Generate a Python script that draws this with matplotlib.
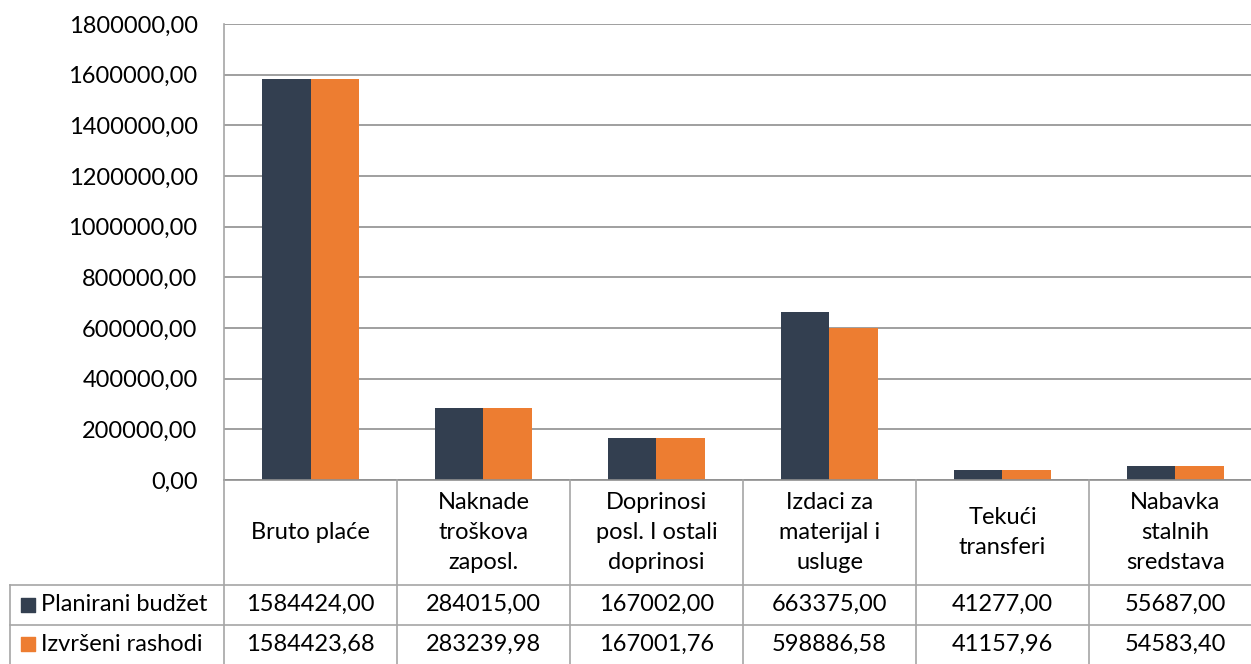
import matplotlib
matplotlib.use('Agg')
import matplotlib.pyplot as plt
import numpy as np

# data
categories = ['Bruto plaće', 'Naknade\ntroškova\nzaposl.', 'Doprinosi\nposl. I ostali\ndoprinosi',
              'Izdaci za\nmaterijal i\nusluge', 'Tekući\ntransferi', 'Nabavka\nstalnih\nsredstava']
series_names = ['Planirani budžet', 'Izvršeni rashodi']
planirani = [1584424.00, 284015.00, 167002.00, 663375.00, 41277.00, 55687.00]
izvrseni = [1584423.68, 283239.98, 167001.76, 598886.58, 41157.96, 54583.40]
y_ticks = np.arange(0, 1800001, 200000)

colors = ['#333F50', '#ED7D31']
grid_col = '#8F8F8F'
line_col = '#A6A6A6'
fs = 17

plt.rcParams['font.family'] = ['Lato', 'DejaVu Sans']

W, H = 1251, 664
fig = plt.figure(figsize=(W / 100, H / 100), dpi=100)

# pixel layout
x0, x1 = 224, 1262      # plot area (right edge runs off the image)
y_top, y_zero = 24, 480
leg_left = 10
cat_w = (x1 - x0) / 6

ax = fig.add_axes([x0 / W, (H - y_zero) / H, (x1 - x0) / W, (y_zero - y_top) / H])
x = np.arange(len(categories))
bw = 0.283
ax.bar(x - bw / 2, planirani, bw, color=colors[0], zorder=3)
ax.bar(x + bw / 2, izvrseni, bw, color=colors[1], zorder=3)
ax.set_xlim(-0.5, 5.5)
ax.set_ylim(0, 1800000)
ax.set_yticks(y_ticks)
ax.set_yticklabels(['{:.2f}'.format(v).replace('.', ',') for v in y_ticks], fontsize=fs)
ax.tick_params(axis='y', length=0, pad=19)
ax.set_xticks([])
ax.grid(axis='y', color=grid_col, linewidth=1.2, zorder=0)
for s in ['top', 'right', 'bottom']:
    ax.spines[s].set_visible(False)
ax.spines['left'].set_color(line_col)
ax.spines['left'].set_linewidth(1.2)

# data table below the chart
tab = fig.add_axes([leg_left / W, 0, (x1 - leg_left) / W, (H - y_zero) / H])
xl = -0.5 - (x0 - leg_left) / cat_w
tab.set_xlim(xl, 5.5)
tab.set_ylim(0, H - y_zero)
tab.axis('off')
row_h = 39.5
hdr_bottom = 2 * row_h
top = H - y_zero

lk = dict(color=line_col, linewidth=1.2, clip_on=False)
tab.plot([-0.5, 5.5], [top, top], color=grid_col, linewidth=1.2, clip_on=False)
for yy in [hdr_bottom, row_h]:
    tab.plot([xl, 5.5], [yy, yy], **lk)
for i in range(7):
    tab.plot([i - 0.5, i - 0.5], [0, top], **lk)
tab.plot([xl, xl], [0, hdr_bottom], **lk)

for i, c in enumerate(categories):
    tab.text(i, (hdr_bottom + top) / 2, c, ha='center', va='center', fontsize=fs, linespacing=1.55)

fmt = lambda v: '{:.2f}'.format(v).replace('.', ',')
rows = [planirani, izvrseni]
for r, vals in enumerate(rows):
    yc = hdr_bottom - row_h * (r + 0.5)
    for i, v in enumerate(vals):
        tab.text(i, yc, fmt(v), ha='center', va='center', fontsize=fs)
    tab.scatter([xl + 18 / cat_w], [yc], marker='s', s=115, color=colors[r], clip_on=False)
    tab.text(xl + 31 / cat_w, yc, series_names[r], ha='left', va='center', fontsize=fs)

fig.savefig('out.png', dpi=100)
